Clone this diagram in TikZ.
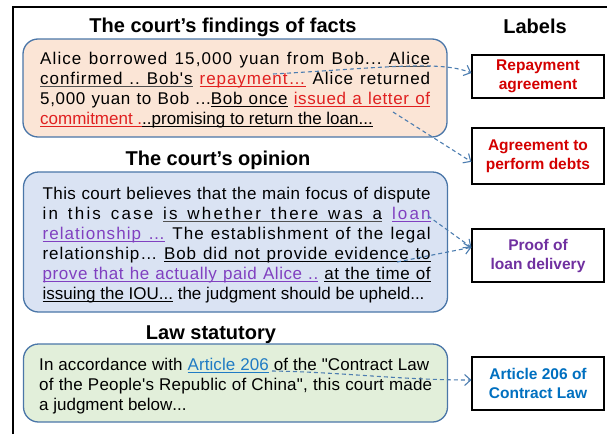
\documentclass[tikz,border=0pt]{standalone}
\usepackage{fontspec}
\setmainfont{Liberation Sans}[Ligatures=TeXOff]
\usetikzlibrary{arrows.meta}
\definecolor{boxborder}{HTML}{4A76A8}
\definecolor{arrc}{HTML}{4C7DB0}
\definecolor{fillfacts}{HTML}{FBE5D6}
\definecolor{fillopinion}{HTML}{DAE3F3}
\definecolor{filllaw}{HTML}{E2EFDA}
\definecolor{hlred}{HTML}{E02020}
\definecolor{hlpurple}{HTML}{8040C0}
\definecolor{hlblue}{HTML}{1F7BC4}
\definecolor{labred}{HTML}{D40000}
\definecolor{labpurple}{HTML}{7030A0}
\definecolor{labblue}{HTML}{0070C0}
\definecolor{ulgray}{HTML}{505050}
% letter-level stretch for justified lines
\newXeTeXintercharclass\mylettercls
\newcount\mycc
\mycc=33
\loop
  \XeTeXcharclass\mycc=\mylettercls
  \advance\mycc by 1
\ifnum\mycc<127 \repeat
\XeTeXcharclass"2026=\mylettercls
\XeTeXcharclass"2019=\mylettercls
\XeTeXinterchartoks\mylettercls\mylettercls={\hskip 0pt plus 1pt\relax}
\newcommand\bodyfont{\fontsize{17}{20}\selectfont\frenchspacing\XeTeXinterchartokenstate=1\relax}
% underline helpers
\newbox\myulbox
\newcommand\myulchar[2]{\setbox\myulbox\hbox{#2}\rlap{\textcolor{#1}{\rule[-3pt]{\wd\myulbox}{1pt}}}\box\myulbox}
\newcommand\myulgap[1]{{\color{#1}\leaders\hrule height -2pt depth 3pt\hskip 0pt plus 1pt}}
\newcommand\myulspace[1]{{\color{#1}\leaders\hrule height -2pt depth 3pt\hskip\fontdimen2\font plus\fontdimen3\font minus\fontdimen4\font}}
\ExplSyntaxOn
\seq_new:N \l_myul_words_seq
\seq_new:N \l_myul_out_seq
\bool_new:N \l_myul_first_bool
\cs_new_protected:Npn \myul_word:nn #1#2
  {
    \bool_set_true:N \l_myul_first_bool
    \tl_map_inline:nn {#2}
      {
        \bool_if:NF \l_myul_first_bool { \myulgap{#1} }
        \bool_set_false:N \l_myul_first_bool
        \myulchar{#1}{##1}
      }
  }
\NewDocumentCommand\U{m m}{
  \seq_set_split:Nnn \l_myul_words_seq {~} {#2}
  \seq_clear:N \l_myul_out_seq
  \seq_map_inline:Nn \l_myul_words_seq { \seq_put_right:Nn \l_myul_out_seq { \myul_word:nn {#1}{##1} } }
  \seq_use:Nn \l_myul_out_seq { \myulspace{#1} }
}
\ExplSyntaxOff
\begin{document}
\begin{tikzpicture}[x=1pt,y=-1pt,
  mainbox/.style={draw=boxborder, line width=1.3pt, rounded corners=15pt, minimum width=424pt, inner sep=0pt},
  labbox/.style={draw=black, line width=1.2pt, fill=white, minimum width=132pt, inner sep=0pt, align=center, font=\fontsize{15.5}{19}\selectfont\bfseries},
  ttl/.style={anchor=base, inner sep=0pt, font=\fontsize{20}{24}\selectfont\bfseries},
  txt/.style={anchor=base west, inner sep=0pt, font=\bodyfont},
  conn/.style={draw=arrc, dashed, dash pattern=on 4pt off 3pt, line width=1.1pt, -{Straight Barb[length=6pt,width=11pt]}}]
\useasboundingbox (0,0) rectangle (607,434);
% frame
\draw[line width=1.2pt] (13,434) -- (13,7) -- (607,7);

% titles
\node[ttl] (t1) at (223,32) {The court’s findings of facts};
\node[ttl] (t2) at (218,165) {The court’s opinion};
\node[ttl] (t3) at (211,339) {Law statutory};
\node[ttl] (t4) at (535,33) {Labels};

% main boxes
\node[mainbox, fill=fillfacts, minimum height=98pt] (facts) at (235,88) {};
\node[mainbox, fill=fillopinion, minimum height=140pt] (opinion) at (235.5,242) {};
\node[mainbox, fill=filllaw, minimum height=78pt] (law) at (235.5,383) {};

% facts text
\node[txt] (f1) at (40,64) {\makebox[390pt][s]{Alice borrowed 15,000 yuan from Bob... \U{ulgray}{Alice}}};
\node[txt] (f2) at (40,84) {\makebox[390pt][s]{\U{ulgray}{confirmed .. Bob's} \textcolor{hlred}{\U{hlred}{repayment…}} Alice returned}};
\node[txt] (f3) at (40,104) {\makebox[390pt][s]{5,000 yuan to Bob ...\U{black}{Bob once} \textcolor{hlred}{\U{hlred}{issued a letter of}}}};
\node[txt] (f4) at (40,124) {\textcolor{hlred}{\U{hlred}{commitment .}}\U{black}{..promising to return the loan...}};

% opinion text
\node[txt] (o1) at (42.5,199) {\makebox[388pt][s]{This court believes that the main focus of dispute}};
\node[txt] (o2) at (42.5,219) {\makebox[388pt][s]{in this case \U{ulgray}{is whether there was a} \textcolor{hlpurple}{\U{hlpurple}{loan}}}};
\node[txt] (o3) at (42.5,239) {\makebox[388pt][s]{\textcolor{hlpurple}{\U{hlpurple}{relationship …}} The establishment of the legal}};
\node[txt] (o4) at (42.5,259) {\makebox[388pt][s]{relationship… \U{black}{Bob did not provide evidence to}}};
\node[txt] (o5) at (42.5,279) {\makebox[388pt][s]{\textcolor{hlpurple}{\U{hlpurple}{prove that he actually paid Alice ..}} \U{black}{at the time of}}};
\node[txt] (o6) at (42.5,299) {\U{black}{issuing the IOU...} the judgment should be upheld...};

% law text
\node[txt] (l1) at (39,370) {\makebox[390pt][s]{In accordance with \textcolor{hlblue}{\U{hlblue}{Article 206}} of the "Contract Law}};
\node[txt] (l2) at (39,390) {\makebox[393pt][s]{of the People's Republic of China", this court made}};
\node[txt] (l3) at (39,410) {a judgment below...};

% labels
\node[labbox, minimum height=43pt, text=labred] (lab1) at (538,76.5) {Repayment\\agreement};
\node[labbox, minimum height=56pt, text=labred] (lab2) at (538,156) {Agreement to\\perform debts};
\node[labbox, minimum height=53pt, text=labpurple] (lab3) at (538,255.5) {Proof of\\loan delivery};
\node[labbox, minimum height=53pt, text=labblue] (lab4) at (538,383.5) {Article 206 of\\Contract Law};

% connectors
\coordinate (a1) at (273,74);
\coordinate (a2) at (393,112);
\coordinate (a3) at (428,216);
\coordinate (a4) at (397,262);
\coordinate (a5) at (272,371);
\draw[conn] (a1) .. controls (380,68) and (440,60) .. (lab1.177);
\draw[conn] (a2) -- (lab2.185);
\draw[conn] (a3) -- (lab3.173.5);
\draw[conn] (a4) -- (lab3.173.5);
\draw[conn] (a5) .. controls (340,372) and (400,380) .. (lab4.177);
\end{tikzpicture}
\end{document}
